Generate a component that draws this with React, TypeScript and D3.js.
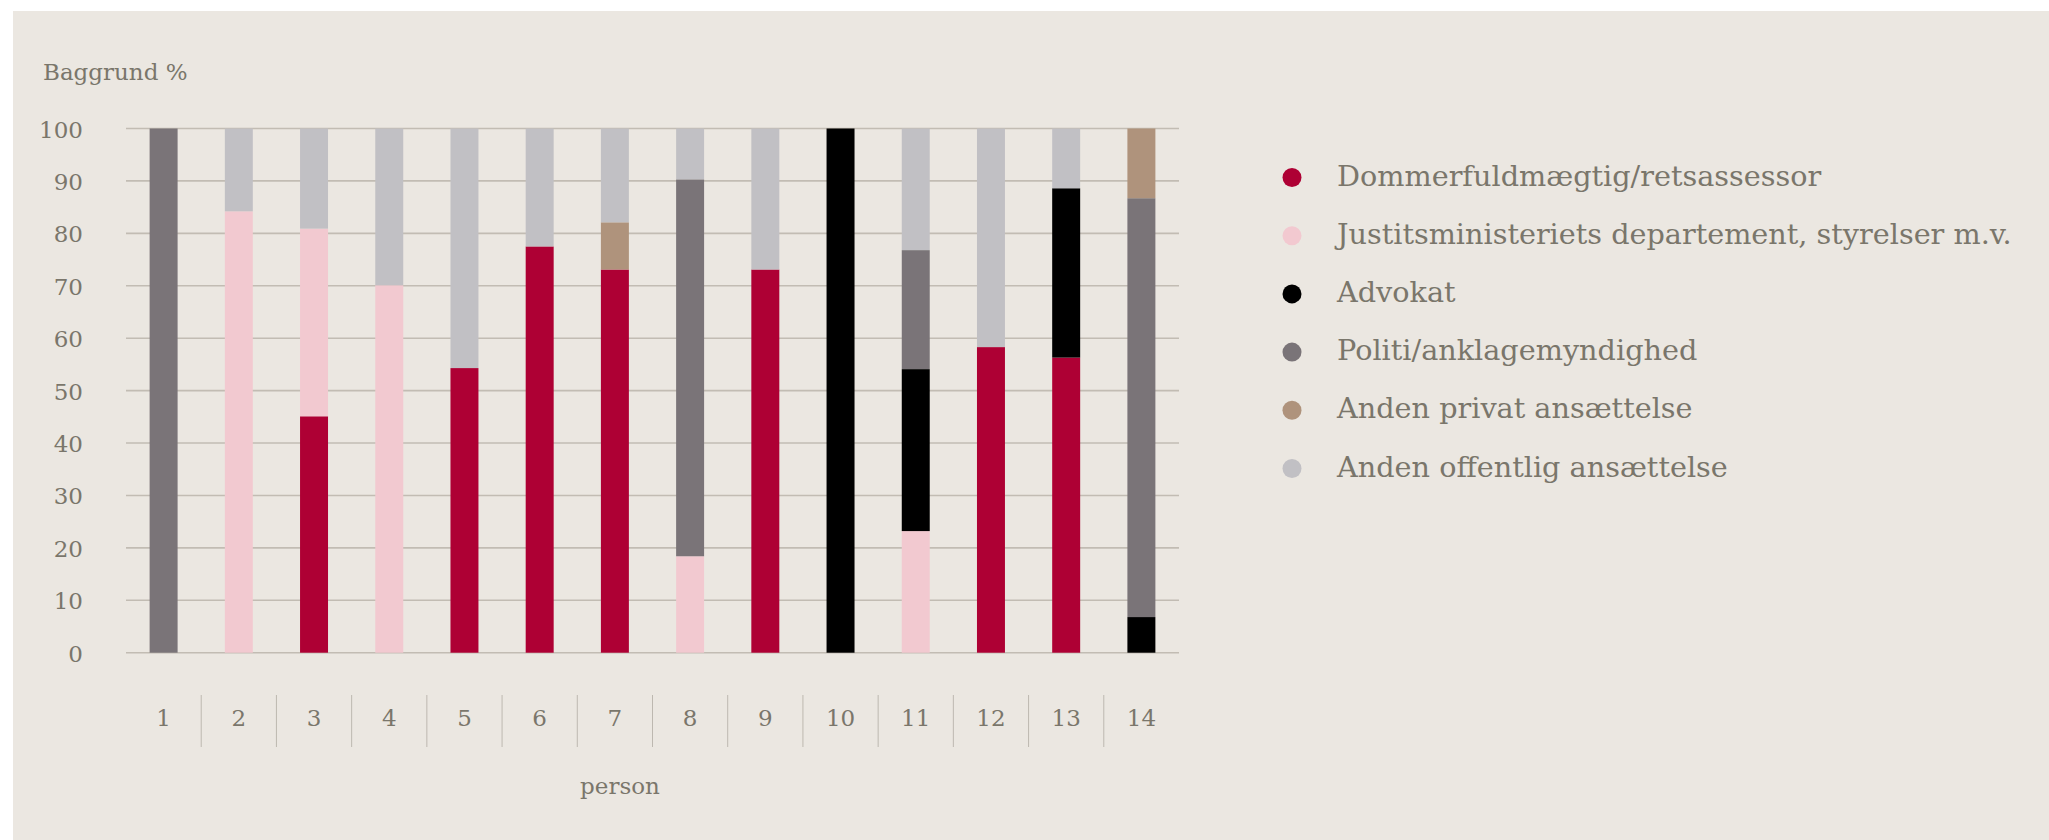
import React from "react";
import * as d3 from "d3";

const persons = ["1","2","3","4","5","6","7","8","9","10","11","12","13","14"];
const seriesNames = [
  "Dommerfuldmægtig/retsassessor",
  "Justitsministeriets departement, styrelser m.v.",
  "Advokat",
  "Politi/anklagemyndighed",
  "Anden privat ansættelse",
  "Anden offentlig ansættelse",
];
const seriesColors = ["#ae0034", "#f2c9d0", "#000000", "#7a7478", "#af937c", "#c1c0c4"];
const dommer =   [0, 0, 45.1, 0, 54.3, 77.5, 73.1, 0, 73.1, 0, 0, 58.3, 56.3, 0];
const justits =  [0, 84.2, 35.8, 70.1, 0, 0, 0, 18.4, 0, 0, 23.2, 0, 0, 0];
const advokat =  [0, 0, 0, 0, 0, 0, 0, 0, 0, 100, 30.9, 0, 32.3, 6.8];
const politi =   [100, 0, 0, 0, 0, 0, 0, 71.9, 0, 0, 22.7, 0, 0, 79.9];
const privat =   [0, 0, 0, 0, 0, 0, 9.0, 0, 0, 0, 0, 0, 0, 13.3];
const offentlig =[0, 15.8, 19.1, 29.9, 45.7, 22.5, 17.9, 9.7, 26.9, 0, 23.2, 41.7, 11.4, 0];
const yTicks = [0, 10, 20, 30, 40, 50, 60, 70, 80, 90, 100];

const W = 2049, H = 840;
const plotLeft = 126, plotRight = 1179, plotTop = 128.5, plotBottom = 652.7;
const textColor = "#7a766b";
const font = "'DejaVu Serif', Georgia, serif";

export default function App() {
  const seriesValues = [dommer, justits, advokat, politi, privat, offentlig];
  const rows = persons.map((p, i) => {
    const r: any = { person: p };
    seriesNames.forEach((s, k) => (r[s] = seriesValues[k][i]));
    return r;
  });
  const stack = d3.stack<any>().keys(seriesNames)(rows);
  const x = d3.scaleBand().domain(persons).range([plotLeft, plotRight]).paddingInner(0.628).paddingOuter(0.314);
  const step = x.step();
  const y = d3.scaleLinear().domain([0, 100]).range([plotBottom, plotTop]);

  return (
    <svg width={W} height={H} style={{ position: "absolute", left: 0, top: 0, display: "block" }} fontFamily={font}>
      <rect x={0} y={0} width={W} height={H} fill="#ffffff" />
      <rect x={13} y={11} width={W - 13} height={H - 11} fill="#ebe7e1" />
      <text x={43} y={80} fontSize={23} fill={textColor}>Baggrund %</text>
      {yTicks.map((t) => (
        <g key={t}>
          <line x1={plotLeft} x2={plotRight} y1={y(t)} y2={y(t)} stroke="#c2bcb3" strokeWidth={1.6} />
          <text x={83} y={y(t) + 9} fontSize={23} fill={textColor} textAnchor="end">{t}</text>
        </g>
      ))}
      {stack.map((s, k) => (
        <g key={s.key} fill={seriesColors[k]}>
          {s.map((d, i) => {
            const h = y(d[0]) - y(d[1]);
            if (h <= 0) return null;
            return <rect key={i} x={x(persons[i])} y={y(d[1])} width={x.bandwidth()} height={h} />;
          })}
        </g>
      ))}
      {persons.map((p, i) => (
        <g key={p}>
          <text x={(x(p) as number) + x.bandwidth() / 2} y={726} fontSize={23} fill={textColor} textAnchor="middle">{p}</text>
          {i > 0 && (
            <line x1={plotLeft + i * step} x2={plotLeft + i * step} y1={695} y2={747} stroke="#bdb8b0" strokeWidth={1} />
          )}
        </g>
      ))}
      <text x={620} y={794} fontSize={23} fill={textColor} textAnchor="middle">person</text>
      {seriesNames.map((s, k) => (
        <g key={s}>
          <circle cx={1292} cy={177.5 + k * 58.2} r={9.5} fill={seriesColors[k]} />
          <text x={1337} y={177.5 + k * 58.2 + 8} fontSize={28.7} fill={textColor}>{s}</text>
        </g>
      ))}
    </svg>
  );
}
